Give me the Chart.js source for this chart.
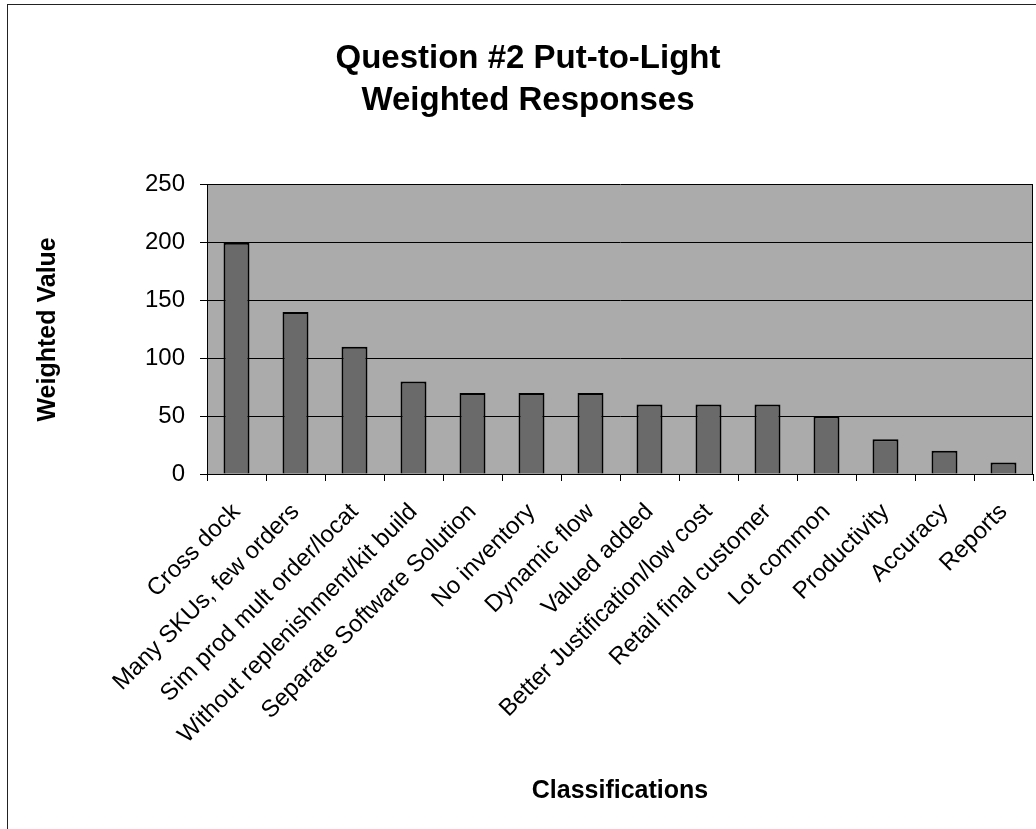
<!DOCTYPE html>
<html><head><meta charset="utf-8">
<script src="https://cdn.jsdelivr.net/npm/chart.js@4/dist/chart.umd.min.js"></script>
<style>
html,body{margin:0;padding:0;background:#fff;overflow:hidden;}
#wrap{position:relative;width:1036px;height:829px;}
#frame{position:absolute;left:7px;top:4px;width:1100px;height:900px;border-left:1px solid #222;border-top:1px solid #222;}
canvas{position:absolute;left:0;top:0;}
</style></head><body>
<div id="wrap"><div id="frame"></div><canvas id="c" width="1036" height="829"></canvas></div>
<script>
const categories = [
  'Cross dock',
  'Many SKUs, few orders',
  'Sim prod mult order/locat',
  'Without replenishment/kit build',
  'Separate Software Solution',
  'No inventory',
  'Dynamic flow',
  'Valued added',
  'Better Justification/low cost',
  'Retail final customer',
  'Lot common',
  'Productivity',
  'Accuracy',
  'Reports'
];
const weightedValues = [200, 140, 110, 80, 70, 70, 70, 60, 60, 60, 50, 30, 20, 10];
const yTicks = [0, 50, 100, 150, 200, 250];
const titleLines = ['Question #2 Put-to-Light', 'Weighted Responses'];
const xTitle = 'Classifications';
const yTitle = 'Weighted Value';

const FONT = "'Liberation Sans', Arial, Helvetica, sans-serif";

const plotBg = {
  id: 'plotBg',
  beforeDraw(chart) {
    const a = chart.chartArea, ctx = chart.ctx;
    ctx.save();
    ctx.fillStyle = '#ababab';
    ctx.fillRect(a.left, a.top, a.right - a.left, a.bottom - a.top);
    ctx.restore();
  },
  afterDraw(chart) {
    const a = chart.chartArea, ctx = chart.ctx;
    ctx.save();
    ctx.strokeStyle = '#000';
    ctx.lineWidth = 1;
    ctx.beginPath();
    ctx.moveTo(Math.round(a.right) - 0.5, a.top);
    ctx.lineTo(Math.round(a.right) - 0.5, a.bottom);
    ctx.stroke();
    ctx.restore();
  }
};

new Chart(document.getElementById('c'), {
  type: 'bar',
  data: {
    labels: categories,
    datasets: [{
      data: weightedValues,
      backgroundColor: '#6a6a6a',
      borderColor: '#000',
      borderWidth: 2,
      barPercentage: 0.44,
      categoryPercentage: 1
    }]
  },
  options: {
    responsive: false,
    animation: false,
    devicePixelRatio: 1,
    layout: { padding: { left: 20, right: 0, top: 0, bottom: 0 } },
    plugins: {
      legend: { display: false },
      tooltip: { enabled: false },
      title: {
        display: true,
        text: titleLines,
        color: '#000',
        font: { family: FONT, size: 33, weight: 'bold', lineHeight: 1.3 },
        padding: { top: 37, bottom: 62 }
      }
    },
    scales: {
      x: {
        offset: true,
        grid: { display: true, drawOnChartArea: false, drawTicks: true, tickLength: 7, color: '#000', offset: true },
        border: { display: true, color: '#000', width: 1 },
        ticks: {
          color: '#000',
          font: { family: FONT, size: 24 },
          minRotation: 45, maxRotation: 45, autoSkip: false, padding: 17
        },
        title: {
          display: true, text: xTitle, color: '#000',
          font: { family: FONT, size: 25, weight: 'bold', lineHeight: 1.2 },
          padding: { top: 0, bottom: 23 }
        },
        afterFit(s) { s.height = 355; s.paddingRight = 3; s.paddingLeft = 0; }
      },
      y: {
        min: 0, max: 250,
        afterBuildTicks(s) { s.ticks = yTicks.map(v => ({ value: v })); },
        grid: { color: '#000', lineWidth: 1, tickLength: 7, drawTicks: true },
        border: { display: true, color: '#000', width: 1 },
        ticks: { color: '#000', font: { family: FONT, size: 24 }, padding: 15 },
        title: {
          display: true, text: yTitle, color: '#000',
          font: { family: FONT, size: 25, weight: 'bold', lineHeight: 1.2 },
          padding: { top: 13, bottom: 0 }
        },
        afterFit(s) { s.width = 187; }
      }
    }
  },
  plugins: [plotBg]
});
</script>
</body></html>
